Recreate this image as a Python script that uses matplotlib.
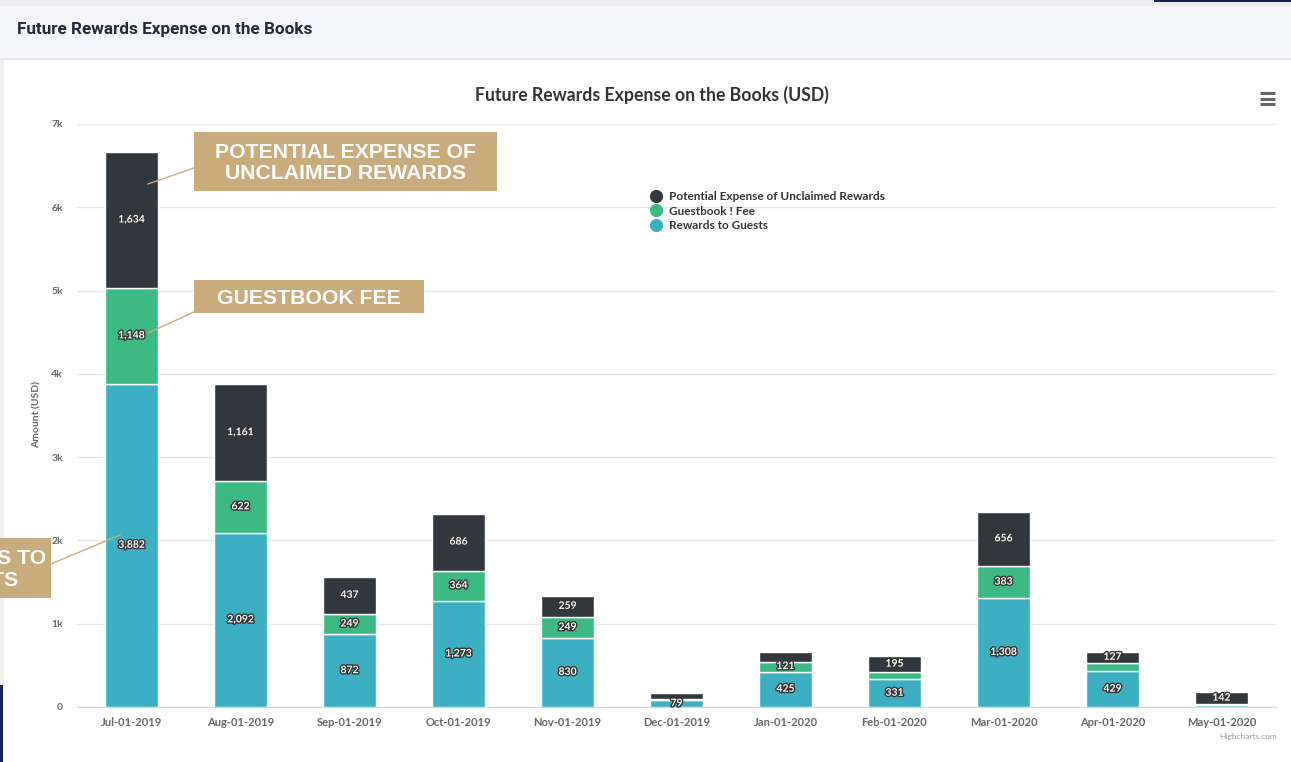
import matplotlib.pyplot as plt
import matplotlib.patheffects as pe
from matplotlib.lines import Line2D
from matplotlib.patches import Rectangle

# data
months = ["Jul-01-2019", "Aug-01-2019", "Sep-01-2019", "Oct-01-2019", "Nov-01-2019", "Dec-01-2019",
          "Jan-01-2020", "Feb-01-2020", "Mar-01-2020", "Apr-01-2020", "May-01-2020"]
rewards = [3882, 2092, 872, 1273, 830, 79, 425, 331, 1308, 429, 30]
fee = [1148, 622, 249, 364, 249, 22, 121, 86, 383, 104, 5]
potential = [1634, 1161, 437, 686, 259, 62, 110, 195, 656, 127, 142]
# which segments show a value label (Highcharts hides ones that do not fit)
show_rewards = [True, True, True, True, True, True, True, True, True, True, False]
show_fee = [True, True, True, True, True, False, True, False, True, False, False]
show_potential = [True, True, True, True, True, False, False, True, True, True, True]

names = ["Potential Expense of Unclaimed Rewards", "Guestbook ! Fee", "Rewards to Guests"]
c_dark = "#33373e"
c_green = "#3dba84"
c_teal = "#3dafc2"
tan = "#c9ab7c"

W, H = 1291, 762
fig = plt.figure(figsize=(W / 100, H / 100), dpi=100)
fig.patch.set_facecolor("white")

def fx(px):
    return px / W

def fy(py):
    return 1 - py / H

# page header
fig.patches.append(Rectangle((0, fy(6)), 1, fy(0) - fy(6), transform=fig.transFigure,
                             facecolor="#ececee", edgecolor="none", zorder=0))
fig.patches.append(Rectangle((0, fy(58)), 1, fy(6) - fy(58), transform=fig.transFigure,
                             facecolor="#f5f6fa", edgecolor="none", zorder=0))
fig.add_artist(Line2D([0, 1], [fy(58.5), fy(58.5)], transform=fig.transFigure, color="#dfe2e8", lw=1.2))
fig.patches.append(Rectangle((fx(1154), fy(2)), 1, fy(0) - fy(2), transform=fig.transFigure,
                             facecolor="#14264d", edgecolor="none", zorder=1))
fig.patches.append(Rectangle((0, fy(762)), fx(4), fy(59) - fy(762), transform=fig.transFigure,
                             facecolor="#efefef", edgecolor="none", zorder=0))
fig.patches.append(Rectangle((0, fy(762)), fx(3), fy(685) - fy(762), transform=fig.transFigure,
                             facecolor="#14264d", edgecolor="none", zorder=1))
fig.text(fx(17), fy(29.5), "Future Rewards Expense on the Books", fontsize=12.3, fontweight="bold",
         family="Roboto", color="#1f2a3a", va="center", ha="left")

ax = fig.add_axes([fx(77), fy(707), fx(1276) - fx(77), fy(124) - fy(707)])
x = list(range(len(months)))
bw = 0.48

bottom2 = [r + f for r, f in zip(rewards, fee)]
ax.bar(x, rewards, bw, color=c_teal, edgecolor="white", linewidth=1, zorder=3)
ax.bar(x, fee, bw, bottom=rewards, color=c_green, edgecolor="white", linewidth=1, zorder=3)
ax.bar(x, potential, bw, bottom=bottom2, color=c_dark, edgecolor="white", linewidth=1, zorder=3)

lab_fx = [pe.withStroke(linewidth=2, foreground="#333333")]
def put_labels(vals, bottoms, flags):
    for i, (v, b, s) in enumerate(zip(vals, bottoms, flags)):
        if s:
            ax.text(i, b + v / 2, f"{v:,}", ha="center", va="center", fontsize=7.5,
                    fontweight="bold", family="Lato", color="white", path_effects=lab_fx, zorder=5)

put_labels(rewards, [0] * len(rewards), show_rewards)
put_labels(fee, rewards, show_fee)
put_labels(potential, bottom2, show_potential)

ax.set_xlim(-0.5, len(months) - 0.5)
ax.set_ylim(0, 7000)
ax.set_yticks(range(0, 7001, 1000))
ax.set_yticklabels(["0"] + [f"{k}k" for k in range(1, 8)])
ax.set_xticks(x)
ax.set_xticklabels(months)
ax.grid(axis="y", color="#e6e6e6", linewidth=1, zorder=0)
for s in ["top", "right", "left"]:
    ax.spines[s].set_visible(False)
ax.spines["bottom"].set_color("#ccd6eb")
ax.tick_params(axis="y", length=0, pad=10, labelsize=7.5, labelcolor="#666666")
ax.tick_params(axis="x", length=0, pad=7, labelsize=8, labelcolor="#666666")
for t in ax.get_xticklabels() + ax.get_yticklabels():
    t.set_family("Lato")
    t.set_fontweight("bold")

fig.text(fx(37), fy(415), "Amount (USD)", rotation=90, fontsize=7.5, color="#666666", family="Lato",
         fontweight="bold", ha="center", va="center")

fig.text(fx(652), fy(95), "Future Rewards Expense on the Books (USD)", fontsize=12.7, family="Lato",
         fontweight="bold", color="#333333", ha="center", va="center")
# menu icon
for yy in [93, 98.5, 104]:
    fig.add_artist(Line2D([fx(1260), fx(1275)], [fy(yy), fy(yy)], transform=fig.transFigure,
                          color="#666666", lw=2.2, solid_capstyle="butt"))

handles = [Line2D([], [], marker="o", ls="none", ms=8.5, color=c) for c in [c_dark, c_green, c_teal]]
leg = fig.legend(handles, names, loc="upper left", bbox_to_anchor=(fx(648), fy(191)), frameon=False,
                 handletextpad=0.35, labelspacing=0.3, borderpad=0, borderaxespad=0, handlelength=1.4,
                 prop={"family": "Lato", "weight": "bold", "size": 8.5})
for t in leg.get_texts():
    t.set_color("#333333")

fig.text(fx(1277), fy(736), "Highcharts.com", fontsize=6, family="Lato", color="#999999", ha="right", va="center")

# callout boxes
def callout(x0, y0, x1, y1, text, lx0, ly0, lx1, ly1, tx):
    fig.add_artist(Line2D([fx(lx0), fx(lx1)], [fy(ly0), fy(ly1)], transform=fig.transFigure,
                          color=tan, lw=1, zorder=6))
    fig.patches.append(Rectangle((fx(x0), fy(y1)), fx(x1) - fx(x0), fy(y0) - fy(y1),
                                 transform=fig.transFigure, facecolor=tan, edgecolor="none", zorder=7))
    fig.text(fx(tx), fy((y0 + y1) / 2 + 1.5), text, ha="center", va="center", fontsize=15.3,
             fontweight="bold", family="Liberation Sans", color="white", linespacing=1.15, zorder=8)

callout(194, 132, 497, 191, "POTENTIAL EXPENSE OF\nUNCLAIMED REWARDS", 194, 168, 148, 184, 345.5)
callout(194, 280, 424, 313, "GUESTBOOK FEE", 194, 312, 148, 333, 309)
callout(-100, 538, 51, 598, "REWARDS TO\nGUESTS", 51, 564, 120, 535, -25)

fig.savefig("out.png", dpi=100)
